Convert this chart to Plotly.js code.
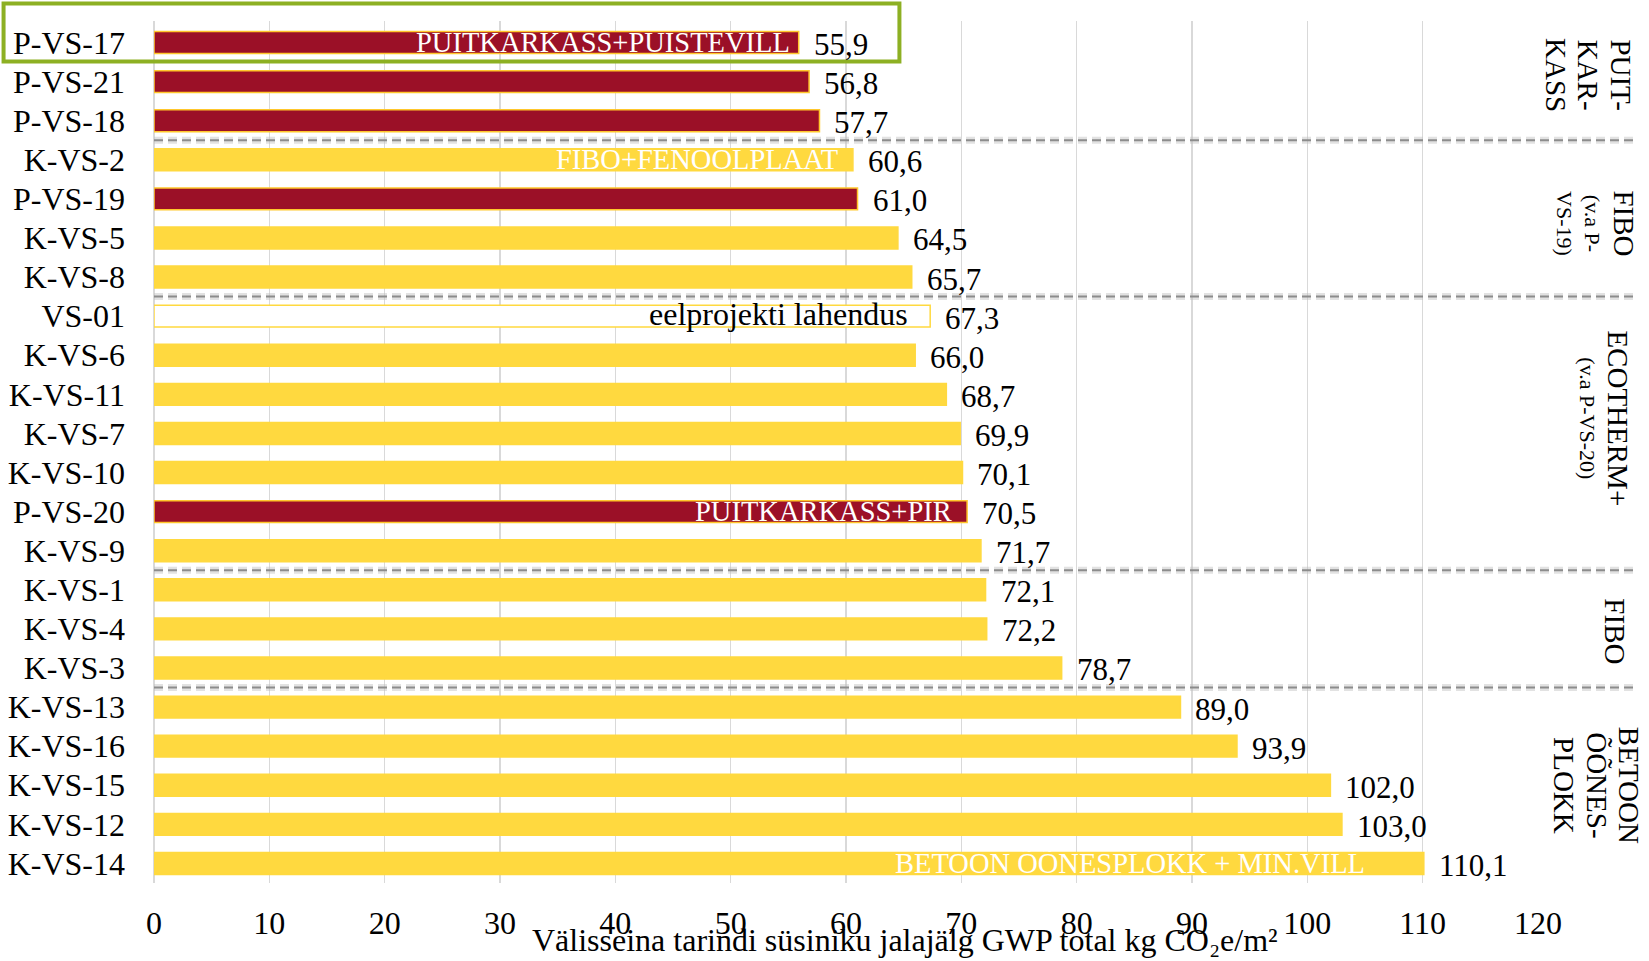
<!DOCTYPE html>
<html>
<head>
<meta charset="utf-8">
<script src="https://cdn.plot.ly/plotly-3.0.1.min.js"></script>
<style>html,body{margin:0;padding:0;background:#fff;}#chart{width:1649px;height:961px;}</style>
</head>
<body>
<div id="chart"></div>
<script>
// ---- data ----
const categories = ["P-VS-17","P-VS-21","P-VS-18","K-VS-2","P-VS-19","K-VS-5","K-VS-8","VS-01","K-VS-6","K-VS-11","K-VS-7","K-VS-10","P-VS-20","K-VS-9","K-VS-1","K-VS-4","K-VS-3","K-VS-13","K-VS-16","K-VS-15","K-VS-12","K-VS-14"];
const values = [55.9,56.8,57.7,60.6,61.0,64.5,65.7,67.3,66.0,68.7,69.9,70.1,70.5,71.7,72.1,72.2,78.7,89.0,93.9,102.0,103.0,110.1];
const barKind = ["puit","puit","puit","kivi","puit","kivi","kivi","eel","kivi","kivi","kivi","kivi","puit","kivi","kivi","kivi","kivi","kivi","kivi","kivi","kivi","kivi"];
const insideLabelCats = ["P-VS-17","K-VS-2","VS-01","P-VS-20","K-VS-14"];
const insideLabelTexts = ["PUITKARKASS+PUISTEVILL","FIBO+FENOOLPLAAT","eelprojekti lahendus","PUITKARKASS+PIR","BETOON ÕÕNESPLOKK + MIN.VILL"];
const groupNames = [
  "<span style='font-size:29px'>PUIT-<br>KAR-<br>KASS</span>",
  "<span style='font-size:29px'>FIBO</span><br>(v.a P-<br>VS-19)",
  "<span style='font-size:29px'>ECOTHERM+</span><br>(v.a P-VS-20)",
  "<span style='font-size:29px'>FIBO</span>",
  "<span style='font-size:29px'>BETOON<br>ÕÕNES-<br>PLOKK</span>"
];
const groupBoundaries = [2.5, 6.5, 13.5, 16.5];
const xTicks = [0,10,20,30,40,50,60,70,80,90,100,110,120];
const xTitle = "Välisseina tarindi süsiniku jalajälg GWP total kg CO₂e/m²";

// ---- styles ----
const FONT = "Liberation Serif, Times New Roman, serif";
const RED = "#9B1027", YEL = "#FFD93F", GOLD = "#FFC72C";
const fillMap = {puit: RED, kivi: YEL, eel: "#FFFFFF"};
const lineMap = {puit: GOLD, kivi: YEL, eel: YEL};
const insideColor = {puit: "#FFFFFF", kivi: "#FFFFFF", eel: "#000000"};
const insideSize = {puit: 28.5, kivi: 28.5, eel: 32};
const insideShift = [-7, -13, -20, -13, -57];
// [paper x, paper y, base font size]
const groupPos = [[1.036, 0.9375, 25], [1.042, 0.765, 22], [1.048, 0.5385, 22], [1.055, 0.2918, 25], [1.042, 0.1137, 25]];

const fmt = v => v.toFixed(1).replace(".", ",");

const trace = {
  type: "bar", orientation: "h",
  y: categories, x: values,
  marker: {color: barKind.map(k => fillMap[k]), line: {color: barKind.map(k => lineMap[k]), width: 1.5}},
  width: 0.56,
  hoverinfo: "x+y"
};

const annotations = [];
categories.forEach((c, i) => {
  annotations.push({x: values[i], y: c, xref: "x", yref: "y", text: fmt(values[i]), showarrow: false,
    xanchor: "left", yanchor: "middle", xshift: 13, yshift: -2, font: {family: FONT, size: 31, color: "#000"}});
});
insideLabelCats.forEach((c, j) => {
  const i = categories.indexOf(c);
  const k = barKind[i];
  annotations.push({x: values[i], y: c, xref: "x", yref: "y", text: insideLabelTexts[j], showarrow: false,
    xanchor: "right", yanchor: "middle", xshift: insideShift[j], yshift: k === "eel" ? 2 : 0,
    font: {family: FONT, size: insideSize[k], color: insideColor[k]}});
});
groupNames.forEach((g, j) => {
  annotations.push({x: groupPos[j][0], y: groupPos[j][1], xref: "paper", yref: "paper", text: g, showarrow: false,
    textangle: 90, align: "center", xanchor: "center", yanchor: "middle",
    font: {family: FONT, size: groupPos[j][2], color: "#000"}});
});
annotations.push({x: 0.5426, y: -0.066, xref: "paper", yref: "paper", text: xTitle, showarrow: false,
  xanchor: "center", yanchor: "middle", font: {family: FONT, size: 32, color: "#000"}});

const shapes = [];
groupBoundaries.forEach(b => {
  shapes.push({type: "line", xref: "paper", yref: "y", x0: 0, x1: 1.07, y0: b, y1: b,
    line: {color: "rgba(190,190,190,0.45)", width: 7, dash: "9px,5px"}, layer: "above"});
  shapes.push({type: "line", xref: "paper", yref: "y", x0: 0, x1: 1.07, y0: b, y1: b,
    line: {color: "#8C8C8C", width: 2, dash: "9px,5px"}, layer: "above"});
});
shapes.push({type: "rect", xref: "paper", yref: "paper", x0: -0.1087, x1: 0.5386, y0: 0.9529, y1: 1.0202,
  line: {color: "#8DB023", width: 4}, fillcolor: "rgba(0,0,0,0)", layer: "above"});

const layout = {
  width: 1649, height: 961,
  margin: {l: 153.5, r: 111.4, t: 21.4, b: 78, pad: 0},
  paper_bgcolor: "#fff", plot_bgcolor: "#fff",
  showlegend: false,
  font: {family: FONT, size: 30, color: "#000"},
  xaxis: {range: [0, 120], tickvals: xTicks, ticktext: xTicks.map(String), showgrid: true, gridcolor: "#D9D9D9", gridwidth: 1.5,
    zeroline: true, zerolinecolor: "#D9D9D9", zerolinewidth: 1.5, showline: false, ticks: "", ticklabelstandoff: 18,
    tickfont: {family: FONT, size: 32, color: "#000"}, fixedrange: true},
  yaxis: {type: "category", autorange: "reversed", showgrid: false, zeroline: false, showline: false, ticks: "",
    ticklabelstandoff: 28, tickfont: {family: FONT, size: 32, color: "#000"}, fixedrange: true},
  annotations: annotations,
  shapes: shapes
};

Plotly.newPlot("chart", [trace], layout, {displayModeBar: false, staticPlot: true});
</script>
</body>
</html>
